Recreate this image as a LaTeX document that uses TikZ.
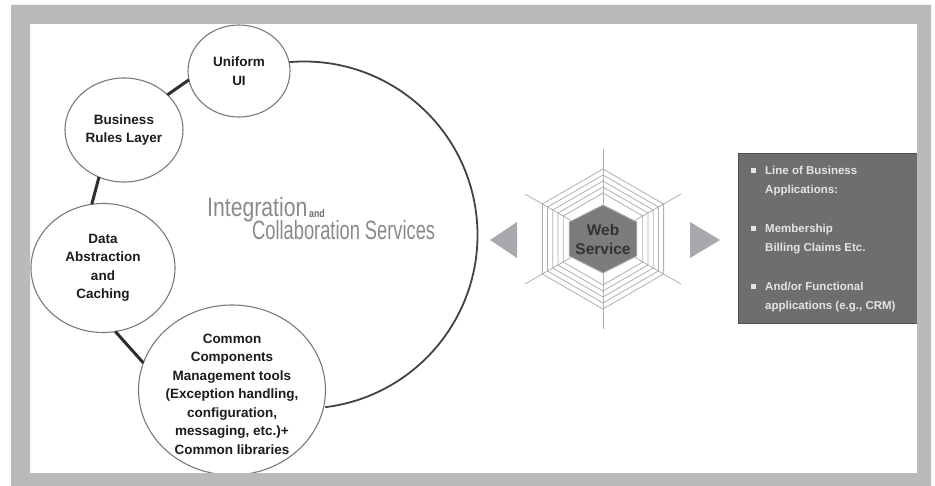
\documentclass[tikz,border=0pt]{standalone}
\usepackage{graphicx}
\usepackage{fontspec}
\setmainfont{Liberation Sans}
\usetikzlibrary{shapes.geometric}
\definecolor{framegray}{HTML}{B9BABC}
\definecolor{ringgray}{HTML}{7A7A7A}
\definecolor{linkdark}{HTML}{2E2E2E}
\definecolor{textdark}{HTML}{1C1C1C}
\definecolor{titlegray}{HTML}{8A8A8A}
\definecolor{webgray}{HTML}{B0B0B0}
\definecolor{hexfill}{HTML}{7C7C7C}
\definecolor{arrowgray}{HTML}{A7A9AC}
\definecolor{boxgray}{HTML}{6D6E70}
\definecolor{boxedge}{HTML}{4F5052}
\definecolor{boxtext}{HTML}{E4E4E4}
\begin{document}
\begin{tikzpicture}[x=1pt,y=-1pt,
  bubble/.style={ellipse, draw=ringgray, line width=1.1pt, fill=white, inner sep=0pt, outer sep=0pt},
  bubtext/.style={align=center, font=\fontsize{13.5}{18.5}\selectfont\bfseries, text=textdark, inner sep=0pt},
  link/.style={draw=linkdark, line width=3pt},
  bigarc/.style={draw=linkdark!90, line width=1.8pt},
  webline/.style={draw=webgray, line width=0.8pt},
  titletxt/.style={font=\fontsize{26.5}{30}\selectfont, text=titlegray, inner sep=0pt},
  boxtxt/.style={align=left, font=\fontsize{11.5}{19}\selectfont\bfseries, text=boxtext, inner sep=0pt},
  bulletsq/.style={rectangle, fill=boxtext, minimum size=5pt, inner sep=0pt}]
\path[use as bounding box] (0,0) rectangle (935,486);
\fill[white] (0,0) rectangle (935,486);

% big integration ring
\node[circle, minimum size=347pt, inner sep=0pt, outer sep=0pt] (big) at (304,235) {};
\draw[bigarc] (big.95) arc[start angle=95, end angle=-83, radius=173.5pt];

% bubbles
\node[bubble, minimum width=102pt, minimum height=92pt] (uni) at (239,71) {};
\node[bubble, minimum width=118pt, minimum height=104pt] (biz) at (124,130) {};
\node[bubble, minimum width=144pt, minimum height=129pt] (data) at (103,268) {};
\node[bubble, minimum width=187pt, minimum height=170pt] (common) at (232,390) {};

\node[bubtext] (unitxt) at (uni) {Uniform\\UI};
\node[bubtext] (biztxt) at (biz) {Business\\Rules Layer};
\node[bubtext] (datatxt) at (data) {Data\\Abstraction\\and\\Caching};
\node[bubtext] (commontxt) at ([yshift=-4pt]common.center) {Common\\Components\\Management tools\\(Exception handling,\\configuration,\\messaging, etc.)+\\Common libraries};

% links
\draw[link] (biz.39) -- (uni.190);
\draw[link] (biz.242) -- (data.100);
\draw[link] (data.281) -- (common.163);

% title
\node[titletxt, anchor=base west] (integ) at (207,217) {\scalebox{0.8}[1]{Integration}};
\node[anchor=base west, inner sep=0pt, text=titlegray!80!black, font=\fontsize{11}{12}\selectfont\bfseries] (andw) at (309,218) {\scalebox{0.8}[1]{and}};
\node[titletxt, anchor=base west] (collab) at (252,240) {\scalebox{0.69}[1]{Collaboration Services}};

% web service spider web
\coordinate (web) at (603,239);
\foreach \a in {30,90,150,210,270,330}
  \draw[webline] (web) -- ++(\a:90);
\foreach \r in {46,52,58,64,70}
  \draw[webline, shift={(603,239)}] (30:\r) -- (90:\r) -- (150:\r) -- (210:\r) -- (270:\r) -- (330:\r) -- cycle;
\filldraw[fill=hexfill, draw=webgray, line width=0.8pt, shift={(603,239)}]
  (30:39 and 34) -- (90:39 and 34) -- (150:39 and 34) -- (210:39 and 34) -- (270:39 and 34) -- (330:39 and 34) -- cycle;
\node[align=center, inner sep=0pt, text=textdark!90, font=\fontsize{15.5}{19}\selectfont\bfseries] (ws) at (603,239) {Web\\Service};

% arrows
\fill[arrowgray] (490,240) -- (517,222) -- (517,258) -- cycle;
\fill[arrowgray] (720,240) -- (690,222) -- (690,258) -- cycle;

% applications box
\node[anchor=north west, fill=boxgray, draw=boxedge, line width=0.8pt, minimum width=185pt, minimum height=170pt, inner sep=0pt] (apps) at (738,153) {};
\node[bulletsq] (b1) at (753,171) {};
\node[bulletsq] (b2) at (753,229) {};
\node[bulletsq] (b3) at (753,287) {};
\node[boxtxt, anchor=west] (t1) at (765,181) {Line of Business\\Applications:};
\node[boxtxt, anchor=west] (t2) at (765,239) {Membership\\Billing Claims Etc.};
\node[boxtxt, anchor=west] (t3) at (765,297) {And/or Functional\\applications (e.g., CRM)};

% frame
\fill[framegray, even odd rule] (11,5) rectangle (931,486) (30,24) rectangle (917,473);
\end{tikzpicture}
\end{document}
